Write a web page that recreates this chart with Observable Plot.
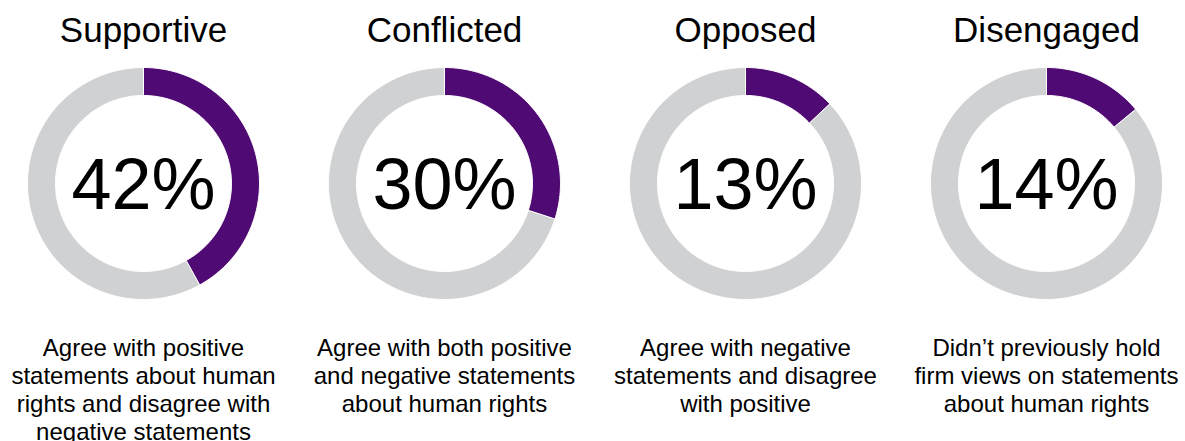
<!DOCTYPE html>
<html>
<head>
<meta charset="utf-8">
<script src="https://cdn.jsdelivr.net/npm/d3@7"></script>
<script src="https://cdn.jsdelivr.net/npm/@observablehq/plot@0.6"></script>
<style>
  html, body { margin: 0; padding: 0; background: #fff; }
  #chart svg { display: block; }
</style>
</head>
<body>
<div id="chart"></div>
<script>
// ---- data ----
const categories = ["Supportive", "Conflicted", "Opposed", "Disengaged"];
const percents = [42, 30, 13, 14];
const descriptions = [
  "Agree with positive\nstatements about human\nrights and disagree with\nnegative statements",
  "Agree with both positive\nand negative statements\nabout human rights",
  "Agree with negative\nstatements and disagree\nwith positive",
  "Didn\u2019t previously hold\nfirm views on statements\nabout human rights"
];
const sliceKinds = ["share", "rest"];
const sliceColors = ["#4f0a73", "#d0d1d3"];

// ---- build arc polygons (derived from the percentages) ----
const W = 1185, H = 441;
const unit = 301;              // pixels per unit (distance between donut centres)
const R_OUT = 116 / unit, R_IN = 88 / unit;
const pts = [];
categories.forEach((cat, i) => {
  const p = percents[i] / 100;
  const slices = [
    {kind: "share", a0: 0, a1: p},
    {kind: "rest", a0: p, a1: 1}
  ];
  slices.forEach(s => {
    const n = Math.max(4, Math.ceil((s.a1 - s.a0) * 240));
    const id = cat + "-" + s.kind;
    const ring = [];
    for (let k = 0; k <= n; k++) {
      const t = 2 * Math.PI * (s.a0 + (s.a1 - s.a0) * k / n);
      ring.push({x: i + R_OUT * Math.sin(t), y: R_OUT * Math.cos(t)});
    }
    for (let k = n; k >= 0; k--) {
      const t = 2 * Math.PI * (s.a0 + (s.a1 - s.a0) * k / n);
      ring.push({x: i + R_IN * Math.sin(t), y: R_IN * Math.cos(t)});
    }
    ring.forEach(r => pts.push({...r, id, kind: s.kind}));
  });
});

const labels = categories.map((c, i) => ({
  i, cat: c, pct: percents[i] + "%", desc: descriptions[i]
}));

const font = "'Liberation Sans', Arial, Helvetica, sans-serif";

const chart = Plot.plot({
  width: W,
  height: H,
  margin: 0,
  style: {fontFamily: font, background: "#fff", color: "#000"},
  x: {type: "linear", domain: [-143 / unit, (W - 143) / unit], range: [0, W], axis: null},
  y: {type: "linear", domain: [-(H - 183) / unit, 183 / unit], range: [H, 0], axis: null},
  color: {domain: sliceKinds, range: sliceColors},
  marks: [
    Plot.line(pts, {
      x: "x", y: "y", z: "id", fill: "kind",
      stroke: "white", strokeWidth: 1, curve: "linear-closed"
    }),
    Plot.text(labels, {
      x: "i", y: () => 0, text: "cat",
      fontSize: 35, lineAnchor: "bottom", dy: -142, fill: "#000"
    }),
    Plot.text(labels, {
      x: "i", y: () => 0, text: "pct",
      fontSize: 72, lineAnchor: "bottom", dy: 25, fill: "#000"
    }),
    Plot.text(labels, {
      x: "i", y: () => 0, text: "desc",
      fontSize: 24, lineHeight: 28 / 24, lineAnchor: "top", dy: 153, fill: "#000"
    })
  ]
});
document.getElementById("chart").appendChild(chart);
</script>
</body>
</html>
